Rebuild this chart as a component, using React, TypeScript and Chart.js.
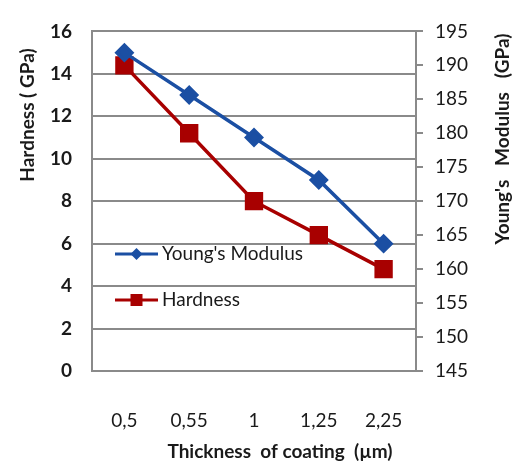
import React, { useEffect, useRef } from "react";
import { Chart, registerables } from "chart.js";

Chart.register(...registerables);

// Coating thickness categories (µm)
const thicknessLabels = ["0,5", "0,55", "1", "1,25", "2,25"];
// Blue series, read on the left axis
const youngsModulus = [15, 13, 11, 9, 6];
// Red series, read on the right axis
const hardness = [190, 180, 170, 165, 160];

const leftTicks = { min: 0, max: 16, step: 2 };
const rightTicks = { min: 145, max: 195, step: 5 };

const BLUE = "#1b4fa3";
const RED = "#a80000";
const GRID = "#8a8a8a";
const TEXT = "#1a1a1a";
const FONT = "Lato, 'Open Sans', sans-serif";
const SIZE = 19;

const overlayPlugin = {
  id: "overlay",
  afterDraw(chart: any) {
    const ctx = chart.ctx as CanvasRenderingContext2D;
    ctx.save();
    ctx.fillStyle = TEXT;
    ctx.textAlign = "center";
    ctx.textBaseline = "middle";

    // Left axis title
    ctx.save();
    ctx.translate(28, 115);
    ctx.rotate(-Math.PI / 2);
    ctx.font = `bold ${SIZE}px ${FONT}`;
    ctx.fillText("Hardness ( GPa)", 0, 0);
    ctx.restore();

    // Right axis title (reads bottom to top)
    ctx.save();
    ctx.translate(503, 139);
    ctx.rotate(-Math.PI / 2);
    ctx.font = `bold ${SIZE}px ${FONT}`;
    ctx.fillText("Young's   Modulus   (GPa)", 0, 0);
    ctx.restore();

    // Bottom axis title
    ctx.font = `bold ${SIZE}px ${FONT}`;
    ctx.fillText("Thickness  of coating  (µm)", 280, 452);

    // Legend inside the plot
    const items = [
      { label: "Young's Modulus", color: BLUE, style: "diamond", y: 254 },
      { label: "Hardness", color: RED, style: "square", y: 300 },
    ];
    items.forEach((it) => {
      ctx.strokeStyle = it.color;
      ctx.fillStyle = it.color;
      ctx.lineWidth = 3;
      ctx.beginPath();
      ctx.moveTo(115, it.y);
      ctx.lineTo(158, it.y);
      ctx.stroke();
      const cx = 136.5;
      ctx.beginPath();
      if (it.style === "diamond") {
        const r = 6;
        ctx.moveTo(cx, it.y - r);
        ctx.lineTo(cx + r, it.y);
        ctx.lineTo(cx, it.y + r);
        ctx.lineTo(cx - r, it.y);
        ctx.closePath();
      } else {
        const h = 6;
        ctx.rect(cx - h, it.y - h, 2 * h, 2 * h);
      }
      ctx.fill();
      ctx.fillStyle = TEXT;
      ctx.textAlign = "left";
      ctx.font = `${SIZE}px ${FONT}`;
      ctx.fillText(it.label, 162, it.y);
    });
    ctx.restore();
  },
};

export default function App() {
  const canvasRef = useRef<HTMLCanvasElement | null>(null);

  useEffect(() => {
    document.body.style.margin = "0";
    const canvas = canvasRef.current;
    if (!canvas) return;
    const chart = new Chart(canvas, {
      type: "line",
      data: {
        labels: thicknessLabels,
        datasets: [
          {
            label: "Young's Modulus",
            data: youngsModulus,
            yAxisID: "y",
            borderColor: BLUE,
            backgroundColor: BLUE,
            borderWidth: 3.5,
            pointStyle: "rectRot",
            pointRadius: 7.5,
            pointHoverRadius: 7.5,
            tension: 0,
          },
          {
            label: "Hardness",
            data: hardness,
            yAxisID: "y1",
            borderColor: RED,
            backgroundColor: RED,
            borderWidth: 3.5,
            pointStyle: "rect",
            pointRadius: 10.5,
            pointHoverRadius: 10.5,
            tension: 0,
          },
        ],
      },
      options: {
        responsive: false,
        animation: false,
        layout: { padding: { top: 17, left: 0, right: 0, bottom: 0 } },
        plugins: {
          legend: { display: false },
          tooltip: { enabled: false },
        },
        scales: {
          x: {
            offset: true,
            grid: { display: false },
            border: { display: true, color: GRID, width: 2 },
            ticks: {
              color: TEXT,
              font: { family: FONT, size: SIZE },
              padding: 30,
              maxRotation: 0,
            },
            afterFit: (s: any) => {
              s.height = 92;
            },
          },
          y: {
            position: "left",
            min: leftTicks.min,
            max: leftTicks.max,
            ticks: {
              stepSize: leftTicks.step,
              color: TEXT,
              font: { family: FONT, size: SIZE, weight: "bold" },
              padding: 20,
            },
            grid: { color: GRID, lineWidth: 2, drawTicks: false },
            border: { display: true, color: GRID, width: 2 },
            afterFit: (s: any) => {
              s.width = 92;
            },
          },
          y1: {
            position: "right",
            min: rightTicks.min,
            max: rightTicks.max,
            ticks: {
              stepSize: rightTicks.step,
              color: TEXT,
              font: { family: FONT, size: SIZE },
              padding: 12,
            },
            grid: {
              drawOnChartArea: false,
              drawTicks: true,
              tickLength: 7,
              color: GRID,
              lineWidth: 2,
            },
            border: { display: true, color: GRID, width: 2 },
            afterFit: (s: any) => {
              s.width = 97;
            },
          },
        },
      },
      plugins: [overlayPlugin],
    });
    return () => chart.destroy();
  }, []);

  return <canvas ref={canvasRef} width={513} height={463} style={{ display: "block" }} />;
}
